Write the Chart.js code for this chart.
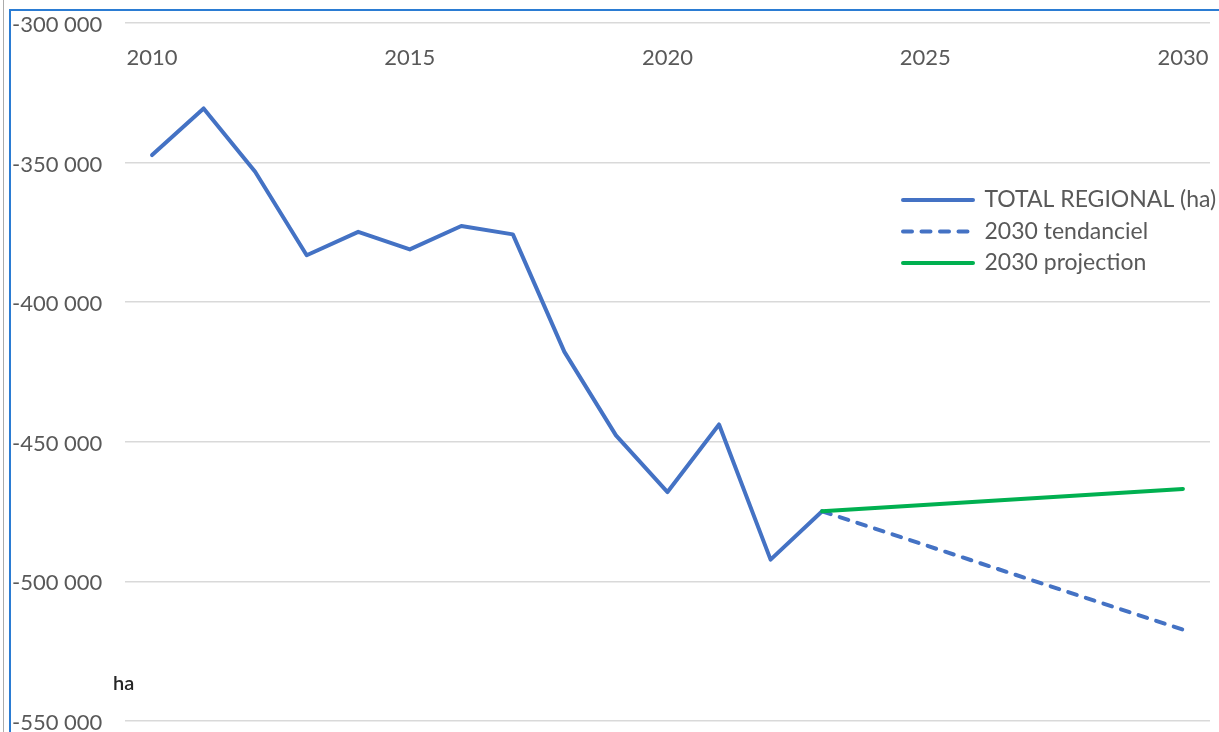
<!DOCTYPE html>
<html>
<head>
<meta charset="utf-8">
<script src="https://cdn.jsdelivr.net/npm/chart.js@4/dist/chart.umd.min.js"></script>
<style>
  html, body { margin: 0; padding: 0; background: #fff; }
  #wrap { position: absolute; left: 0; top: 0; width: 1219px; height: 732px; overflow: hidden; background: #fff; }
  #c { position: absolute; left: 0; top: 0; }
  .frame { position: absolute; pointer-events: none; }
  #ha { position: absolute; left: 113px; top: 670px; font-family: Lato, "DejaVu Sans", sans-serif; font-size: 20px; color: #262626; font-weight: 600; }
</style>
</head>
<body>
<div id="wrap">
  <canvas id="c" width="1219" height="732"></canvas>
  <div class="frame" style="left:3px;top:0;width:1px;height:732px;background:#ababab;"></div>
  <div class="frame" style="left:9px;top:9px;width:2px;height:723px;background:#2b7cd3;"></div>
  <div class="frame" style="left:9px;top:9px;width:1210px;height:2px;background:#2b7cd3;"></div>
  <div id="ha">ha</div>
</div>
<script>
// ---- data ----
const years = [2010, 2011, 2012, 2013, 2014, 2015, 2016, 2017, 2018, 2019, 2020, 2021, 2022, 2023];
const totalRegional = [-347300, -330600, -353300, -383200, -374800, -381100, -372700, -375700, -417800, -447700, -468000, -443800, -492200, -474900];
const tendYears = [2023, 2030];
const tendanciel = [-474900, -517300];
const projYears = [2023, 2030];
const projection = [-474900, -466900];
const seriesNames = ['TOTAL REGIONAL (ha)', '2030 tendanciel', '2030 projection'];
const xTicks = [2010, 2015, 2020, 2025, 2030];
const yTicks = [-300000, -350000, -400000, -450000, -500000, -550000];
const yTickLabels = ['-300 000', '-350 000', '-400 000', '-450 000', '-500 000', '-550 000'];

const toPts = (xs, ys) => xs.map((x, i) => ({ x: x, y: ys[i] }));
const FONT = { family: 'Lato, "DejaVu Sans", sans-serif', size: 22 };
const LFONT = { family: 'Lato, "DejaVu Sans", sans-serif', size: 23 };
const TXT = '#595959';

const legendPlace = {
  id: 'legendPlace',
  afterLayout(chart) {
    const lg = chart.legend;
    if (!lg) return;
    lg.left = 894.5;
    lg.right = 1219;
    lg.top = 180;
    lg.bottom = lg.top + 140;
    lg.width = lg.right - lg.left;
    lg.height = lg.bottom - lg.top;
  }
};

const zeroPad = (s) => { s.paddingLeft = 0; s.paddingRight = 0; s.paddingTop = 0; s.paddingBottom = 0; };

new Chart(document.getElementById('c'), {
  type: 'line',
  data: {
    datasets: [
      {
        label: seriesNames[0],
        data: toPts(years, totalRegional),
        borderColor: '#4472C4',
        backgroundColor: '#4472C4',
        borderWidth: 4,
        borderCapStyle: 'round',
        borderJoinStyle: 'round',
        pointRadius: 0,
        tension: 0,
        order: 1
      },
      {
        label: seriesNames[1],
        data: toPts(tendYears, tendanciel),
        borderColor: '#4472C4',
        backgroundColor: '#4472C4',
        borderWidth: 4,
        borderDash: [9, 9.5],
        borderCapStyle: 'round',
        pointRadius: 0,
        order: 2
      },
      {
        label: seriesNames[2],
        data: toPts(projYears, projection),
        borderColor: '#00B050',
        backgroundColor: '#00B050',
        borderWidth: 4,
        borderCapStyle: 'round',
        pointRadius: 0,
        order: 0
      }
    ]
  },
  options: {
    responsive: false,
    animation: false,
    layout: { padding: { left: 12, right: 9, top: 23, bottom: 11 } },
    scales: {
      x: {
        type: 'linear',
        position: { y: -300000 },
        min: 2009.475,
        max: 2030.525,
        afterBuildTicks: (s) => { s.ticks = xTicks.map(v => ({ value: v })); },
        afterFit: zeroPad,
        grid: { display: false },
        border: { display: false },
        ticks: {
          font: FONT,
          color: TXT,
          padding: 13.5,
          maxRotation: 0,
          autoSkip: false,
          callback: (v) => String(v)
        }
      },
      y: {
        type: 'linear',
        position: 'left',
        min: -550000,
        max: -300000,
        afterBuildTicks: (s) => { s.ticks = yTicks.map(v => ({ value: v })); },
        afterFit: (s) => { s.width = 113; zeroPad(s); },
        grid: { color: '#D9D9D9', lineWidth: 1.5, drawTicks: false },
        border: { display: false },
        ticks: {
          font: FONT,
          color: TXT,
          crossAlign: 'far',
          labelOffset: 2,
          autoSkip: false,
          callback: (v) => { const i = yTicks.indexOf(v); return i >= 0 ? yTickLabels[i] : ''; }
        }
      }
    },
    plugins: {
      title: { display: false },
      tooltip: { enabled: false },
      legend: {
        position: 'chartArea',
        align: 'start',
        labels: {
          font: LFONT,
          color: TXT,
          usePointStyle: true,
          pointStyle: 'line',
          pointStyleWidth: 70,
          padding: 8.5,
          sort: (a, b) => a.datasetIndex - b.datasetIndex,
          generateLabels: (chart) => {
            const items = Chart.defaults.plugins.legend.labels.generateLabels(chart);
            items.forEach(it => {
              const ds = chart.data.datasets[it.datasetIndex];
              it.lineDash = ds.borderDash || [];
              it.lineWidth = 4;
              it.strokeStyle = ds.borderColor;
              it.fillStyle = ds.borderColor;
              it.lineCap = 'round';
              it.pointStyle = 'line';
            });
            return items;
          }
        }
      }
    }
  },
  plugins: [legendPlace]
});
</script>
</body>
</html>
